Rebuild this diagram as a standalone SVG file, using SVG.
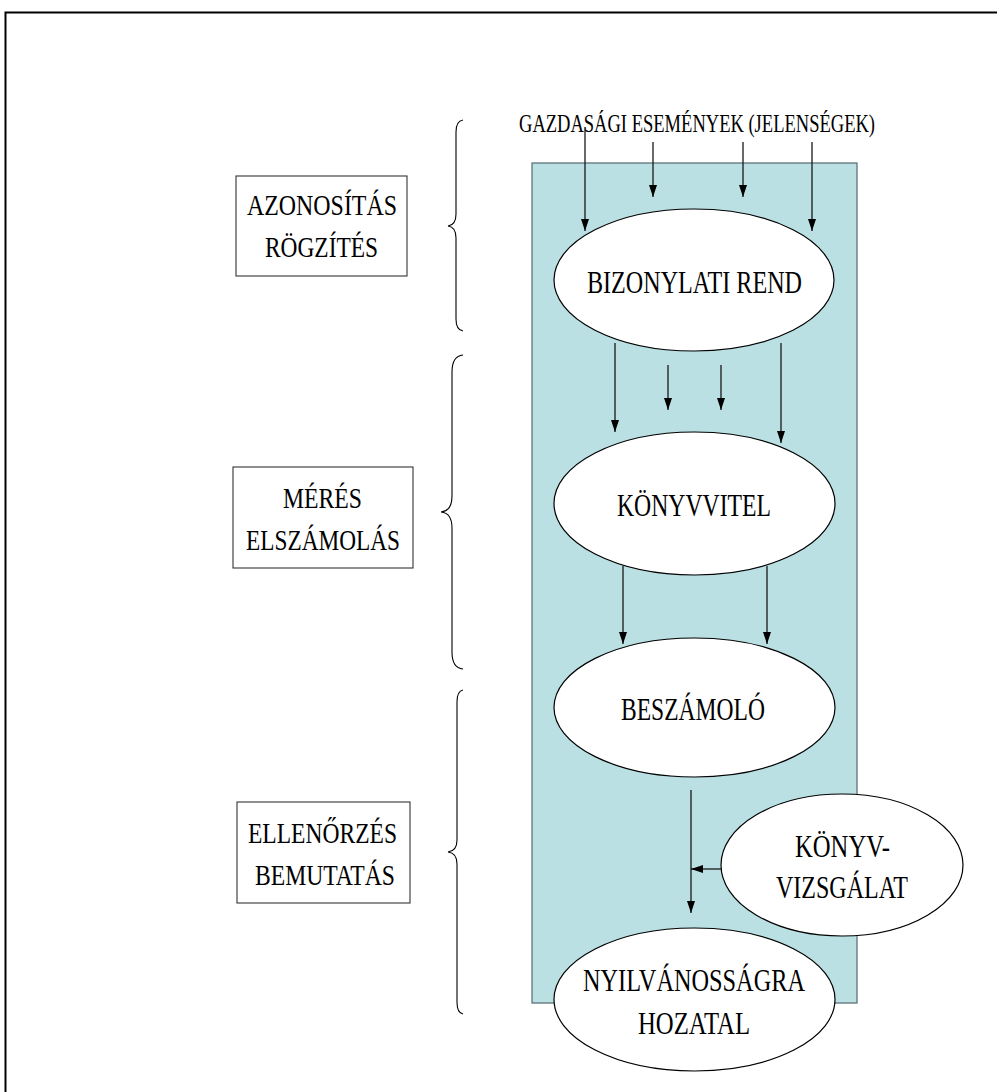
<svg xmlns="http://www.w3.org/2000/svg" width="997" height="1092" viewBox="0 0 997 1092">
<style>
text{font-family:"Liberation Serif","Times New Roman",serif;fill:#000;}
.t{font-size:31px;}
.s{font-size:29px;}
.g{font-size:26px;}
.node{fill:#fff;stroke:#000;stroke-width:1.2;}
.box{fill:#fff;stroke:#333;stroke-width:1.1;}
.arr{stroke:#1a1a1a;stroke-width:1.3;fill:none;marker-end:url(#ah);}
.brace{fill:none;stroke:#000;stroke-width:1.1;}
</style>
<defs>
<marker id="ah" viewBox="0 0 12 8" markerWidth="12" markerHeight="8" refX="12" refY="4" orient="auto" markerUnits="userSpaceOnUse">
<path d="M0,0 L12,4 L0,8 z" fill="#000"/>
</marker>
</defs>
<rect x="0" y="0" width="997" height="1092" fill="#fff"/>
<rect x="5.5" y="12.5" width="1010" height="1100" fill="none" stroke="#000" stroke-width="2"/>
<rect id="panel" x="532" y="163" width="325" height="840" fill="#bbe0e3" stroke="#5d7479" stroke-width="1.3"/>

<g id="braces">
<path class="brace" d="M463,120 Q456,121 456,132 L456,214 Q456,225 448,226 Q456,227 456,238 L456,319 Q456,330 463,331"/>
<path class="brace" d="M463,355 Q452,356 452,372 L452,496 Q452,511 441,512 Q452,513 452,528 L452,652 Q452,668 463,669"/>
<path class="brace" d="M463,690 Q457,691 457,702 L457,840 Q457,851 448,852 Q457,853 457,864 L457,1002 Q457,1013 463,1014"/>
</g>

<g id="label-azonositas">
<rect class="box" x="236" y="176" width="171" height="100"/>
<text class="s" x="247" y="215" textLength="150" lengthAdjust="spacingAndGlyphs">AZONOSÍTÁS</text>
<text class="s" x="265" y="257" textLength="113" lengthAdjust="spacingAndGlyphs">RÖGZÍTÉS</text>
</g>
<g id="label-meres">
<rect class="box" x="233" y="467" width="180" height="101"/>
<text class="s" x="283" y="508" textLength="79" lengthAdjust="spacingAndGlyphs">MÉRÉS</text>
<text class="s" x="246" y="550" textLength="154" lengthAdjust="spacingAndGlyphs">ELSZÁMOLÁS</text>
</g>
<g id="label-ellenorzes">
<rect class="box" x="237" y="802" width="173" height="101"/>
<text class="s" x="248" y="843" textLength="149" lengthAdjust="spacingAndGlyphs">ELLENŐRZÉS</text>
<text class="s" x="255" y="885" textLength="140" lengthAdjust="spacingAndGlyphs">BEMUTATÁS</text>
</g>

<g id="events">
<text class="g" x="519" y="132" textLength="356" lengthAdjust="spacingAndGlyphs">GAZDASÁGI ESEMÉNYEK (JELENSÉGEK)</text>
</g>

<g id="connectors">
<line class="arr" x1="585" y1="127" x2="585" y2="231"/>
<line class="arr" x1="653" y1="142" x2="653" y2="197"/>
<line class="arr" x1="743" y1="142" x2="743" y2="197"/>
<line class="arr" x1="812" y1="142" x2="812" y2="231"/>
<line class="arr" x1="615" y1="343" x2="615" y2="432"/>
<line class="arr" x1="668" y1="365" x2="668" y2="410"/>
<line class="arr" x1="721" y1="365" x2="721" y2="410"/>
<line class="arr" x1="781" y1="343" x2="781" y2="443"/>
<line class="arr" x1="623" y1="566" x2="623" y2="644"/>
<line class="arr" x1="767" y1="566" x2="767" y2="644"/>
<line class="arr" x1="691" y1="790" x2="691" y2="913"/>
<line class="arr" x1="721" y1="869" x2="691" y2="869"/>
</g>

<g id="bizonylati">
<ellipse class="node" cx="694" cy="280" rx="140" ry="71"/>
<text class="t" x="587" y="293" textLength="215" lengthAdjust="spacingAndGlyphs">BIZONYLATI REND</text>
</g>
<g id="konyvvitel">
<ellipse class="node" cx="694.5" cy="503.5" rx="140.5" ry="71.5"/>
<text class="t" x="617" y="516" textLength="154" lengthAdjust="spacingAndGlyphs">KÖNYVVITEL</text>
</g>
<g id="beszamolo">
<ellipse class="node" cx="694.5" cy="707.5" rx="140.5" ry="69.5"/>
<text class="t" x="621" y="720" textLength="144" lengthAdjust="spacingAndGlyphs">BESZÁMOLÓ</text>
</g>
<g id="konyvvizsgalat">
<ellipse class="node" cx="842" cy="865" rx="121" ry="71"/>
<text class="t" x="795" y="857" textLength="95" lengthAdjust="spacingAndGlyphs">KÖNYV-</text>
<text class="t" x="776" y="898" textLength="132" lengthAdjust="spacingAndGlyphs">VIZSGÁLAT</text>
</g>
<g id="nyilvanossagra">
<ellipse class="node" cx="694.5" cy="999.5" rx="140.5" ry="71.5"/>
<text class="t" x="583" y="991" textLength="222" lengthAdjust="spacingAndGlyphs">NYILVÁNOSSÁGRA</text>
<text class="t" x="638" y="1034" textLength="112" lengthAdjust="spacingAndGlyphs">HOZATAL</text>
</g>
</svg>
